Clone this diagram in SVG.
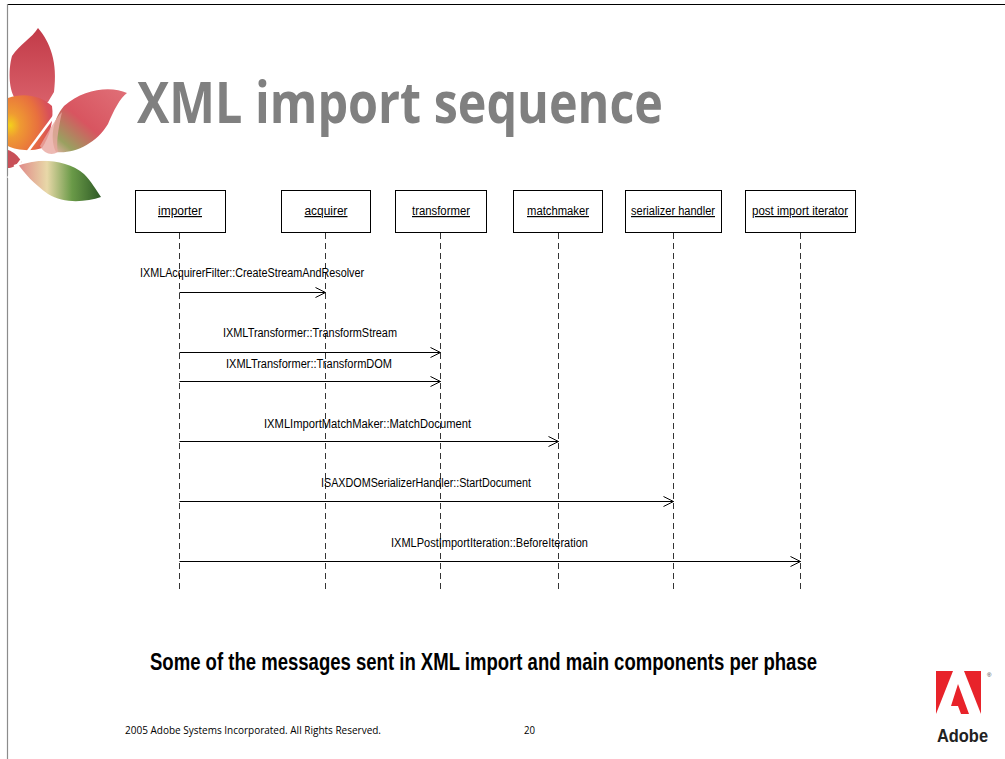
<svg xmlns="http://www.w3.org/2000/svg" width="1005" height="759" viewBox="0 0 1005 759">
  <style>
    .box { fill: #ffffff; stroke: #000000; stroke-width: 1; }
    .name { font-family: "Liberation Sans Narrow", "Liberation Sans", sans-serif; font-size: 12px; fill: #000000; text-decoration: underline; text-anchor: middle; }
    .life { stroke: #000000; stroke-width: 0.8; stroke-dasharray: 6 4; fill: none; }
    .msg { stroke: #000000; stroke-width: 1; fill: none; marker-end: url(#open); }
    .lbl { font-family: "Liberation Sans Narrow", "Liberation Sans", sans-serif; font-size: 12px; fill: #000000; }
  </style>
  <defs>
    <marker id="open" viewBox="0 0 12 12" refX="11" refY="6" markerWidth="12" markerHeight="12" markerUnits="userSpaceOnUse" orient="auto">
      <path d="M1,1 L11,6 L1,11" fill="none" stroke="#000000" stroke-width="1"/>
    </marker>
    <linearGradient id="gTop" x1="0" y1="0" x2="0" y2="1">
      <stop offset="0" stop-color="#c23a48"/>
      <stop offset="1" stop-color="#d9606a"/>
    </linearGradient>
    <radialGradient id="gOrange" cx="0.05" cy="0.55" r="0.9">
      <stop offset="0" stop-color="#f4d01c"/>
      <stop offset="0.25" stop-color="#ef9a32"/>
      <stop offset="0.7" stop-color="#e8703e"/>
      <stop offset="1" stop-color="#d8505a"/>
    </radialGradient>
    <linearGradient id="gRight" x1="1" y1="0" x2="0" y2="1">
      <stop offset="0" stop-color="#e07078"/>
      <stop offset="0.55" stop-color="#d85560"/>
      <stop offset="0.85" stop-color="#9aa060"/>
      <stop offset="1" stop-color="#e8b0a8"/>
    </linearGradient>
    <linearGradient id="gBottom" x1="0" y1="0" x2="1" y2="0">
      <stop offset="0" stop-color="#e08888"/>
      <stop offset="0.35" stop-color="#e8d8a8"/>
      <stop offset="0.65" stop-color="#6a9a48"/>
      <stop offset="1" stop-color="#2e5a26"/>
    </linearGradient>
  </defs>

  <rect x="0" y="0" width="1005" height="759" fill="#ffffff"/>

  <!-- slide frame -->
  <line x1="7" y1="4.5" x2="1005" y2="4.5" stroke="#000000" stroke-width="1.2"/>
  <line x1="7.5" y1="4" x2="7.5" y2="759" stroke="#8c8c8c" stroke-width="1.2"/>

  <!-- leaf emblem -->
  <g id="leaf">
    <path d="M38,28 C50,42 58,62 54,92 L48,102 L20,104 C8,96 8,70 12,56 C20,44 32,38 38,28 Z" fill="url(#gTop)"/>
    <path d="M8,98 C24,92 42,96 52,106 C54,120 50,136 42,148 C30,152 16,150 8,146 Z" fill="url(#gOrange)"/>
    <path d="M127,93 C112,86 84,88 64,106 C52,120 50,140 56,152 C74,154 96,144 108,124 C114,110 120,98 127,93 Z" fill="url(#gRight)"/>
    <path d="M40,146 C48,132 56,118 62,112 C58,130 56,144 58,152 C52,156 44,154 40,146 Z" fill="#e8a8a0" opacity="0.8"/>
    <path d="M18,164 C40,158 68,160 84,174 C92,182 96,190 101,197 C86,202 64,204 48,194 C34,184 24,173 18,164 Z" fill="url(#gBottom)"/>
    <path d="M8,150 C14,152 18,156 22,162 C16,166 11,168 8,168 Z" fill="#c85058"/>
    <path d="M8,178 L60,108" stroke="#ffffff" stroke-width="2.5" fill="none"/>
    <path d="M14,166 C30,160 44,158 60,160" stroke="#ffffff" stroke-width="2" fill="none"/>
  </g>

  <!-- title -->
  <text x="137" y="123" font-family="'Open Sans', 'Liberation Sans', sans-serif" font-weight="bold" font-size="57" fill="#808080" textLength="526" lengthAdjust="spacingAndGlyphs">XML import sequence</text>

  <!-- participants -->
  <g id="importer">
    <rect class="box" x="135.5" y="190.5" width="90" height="42"/>
    <text class="name" x="180" y="215" textLength="44" lengthAdjust="spacingAndGlyphs">importer</text>
  </g>
  <g id="acquirer">
    <rect class="box" x="281.5" y="190.5" width="89" height="42"/>
    <text class="name" x="326" y="215" textLength="43" lengthAdjust="spacingAndGlyphs">acquirer</text>
  </g>
  <g id="transformer">
    <rect class="box" x="395.5" y="190.5" width="91" height="42"/>
    <text class="name" x="441" y="215" textLength="58" lengthAdjust="spacingAndGlyphs">transformer</text>
  </g>
  <g id="matchmaker">
    <rect class="box" x="513.5" y="190.5" width="89" height="42"/>
    <text class="name" x="558" y="215" textLength="62" lengthAdjust="spacingAndGlyphs">matchmaker</text>
  </g>
  <g id="serializer-handler">
    <rect class="box" x="625.5" y="190.5" width="96" height="42"/>
    <text class="name" x="673" y="215" textLength="84" lengthAdjust="spacingAndGlyphs">serializer handler</text>
  </g>
  <g id="post-import-iterator">
    <rect class="box" x="745.5" y="190.5" width="110" height="42"/>
    <text class="name" x="800" y="215" textLength="96" lengthAdjust="spacingAndGlyphs">post import iterator</text>
  </g>

  <!-- lifelines and messages -->
  <g id="connectors">
    <line class="life" x1="179.5" y1="233" x2="179.5" y2="592"/>
    <line class="life" x1="325.5" y1="233" x2="325.5" y2="592"/>
    <line class="life" x1="440.5" y1="233" x2="440.5" y2="592"/>
    <line class="life" x1="558.5" y1="233" x2="558.5" y2="592"/>
    <line class="life" x1="673.5" y1="233" x2="673.5" y2="592"/>
    <line class="life" x1="800.5" y1="233" x2="800.5" y2="592"/>

    <line class="msg" x1="179.5" y1="292.5" x2="325.5" y2="292.5"/>
    <line class="msg" x1="179.5" y1="352.5" x2="440.5" y2="352.5"/>
    <line class="msg" x1="179.5" y1="381.5" x2="440.5" y2="381.5"/>
    <line class="msg" x1="179.5" y1="441.5" x2="558.5" y2="441.5"/>
    <line class="msg" x1="179.5" y1="501.5" x2="673.5" y2="501.5"/>
    <line class="msg" x1="179.5" y1="561.5" x2="800.5" y2="561.5"/>

    <text class="lbl" x="140" y="277" textLength="224" lengthAdjust="spacingAndGlyphs">IXMLAcquirerFilter::CreateStreamAndResolver</text>
    <text class="lbl" x="223" y="337" textLength="174" lengthAdjust="spacingAndGlyphs">IXMLTransformer::TransformStream</text>
    <text class="lbl" x="226" y="368" textLength="166" lengthAdjust="spacingAndGlyphs">IXMLTransformer::TransformDOM</text>
    <text class="lbl" x="264" y="428" textLength="207" lengthAdjust="spacingAndGlyphs">IXMLImportMatchMaker::MatchDocument</text>
    <text class="lbl" x="321" y="487" textLength="210" lengthAdjust="spacingAndGlyphs">ISAXDOMSerializerHandler::StartDocument</text>
    <text class="lbl" x="391" y="547" textLength="197" lengthAdjust="spacingAndGlyphs">IXMLPostImportIteration::BeforeIteration</text>
  </g>

  <!-- caption -->
  <text x="150" y="670" font-family="'Liberation Sans Narrow', 'Liberation Sans', sans-serif" font-weight="bold" font-size="23" fill="#000000" textLength="667" lengthAdjust="spacingAndGlyphs">Some of the messages sent in XML import and main components per phase</text>

  <!-- footer -->
  <text x="125" y="734" font-family="'Open Sans', 'Liberation Sans', sans-serif" font-size="10" fill="#000000" textLength="256" lengthAdjust="spacingAndGlyphs">2005 Adobe Systems Incorporated. All Rights Reserved.</text>
  <text x="524" y="734" font-family="'Open Sans', 'Liberation Sans', sans-serif" font-size="10" fill="#000000" textLength="11" lengthAdjust="spacingAndGlyphs">20</text>

  <!-- company logo -->
  <g id="adobe-logo">
    <polygon points="936,671 953,671 936,714" fill="#e8232a"/>
    <polygon points="964,671 981,671 981,714" fill="#e8232a"/>
    <polygon points="958,684 969,714 961,714 958,706 951,706" fill="#e8232a"/>
    <text x="987" y="677" font-family="'Liberation Sans', sans-serif" font-size="6" fill="#333333">®</text>
    <text x="937" y="742" font-family="'Liberation Sans Narrow', 'Liberation Sans', sans-serif" font-weight="bold" font-size="18" fill="#222222" textLength="51" lengthAdjust="spacingAndGlyphs">Adobe</text>
  </g>
</svg>
